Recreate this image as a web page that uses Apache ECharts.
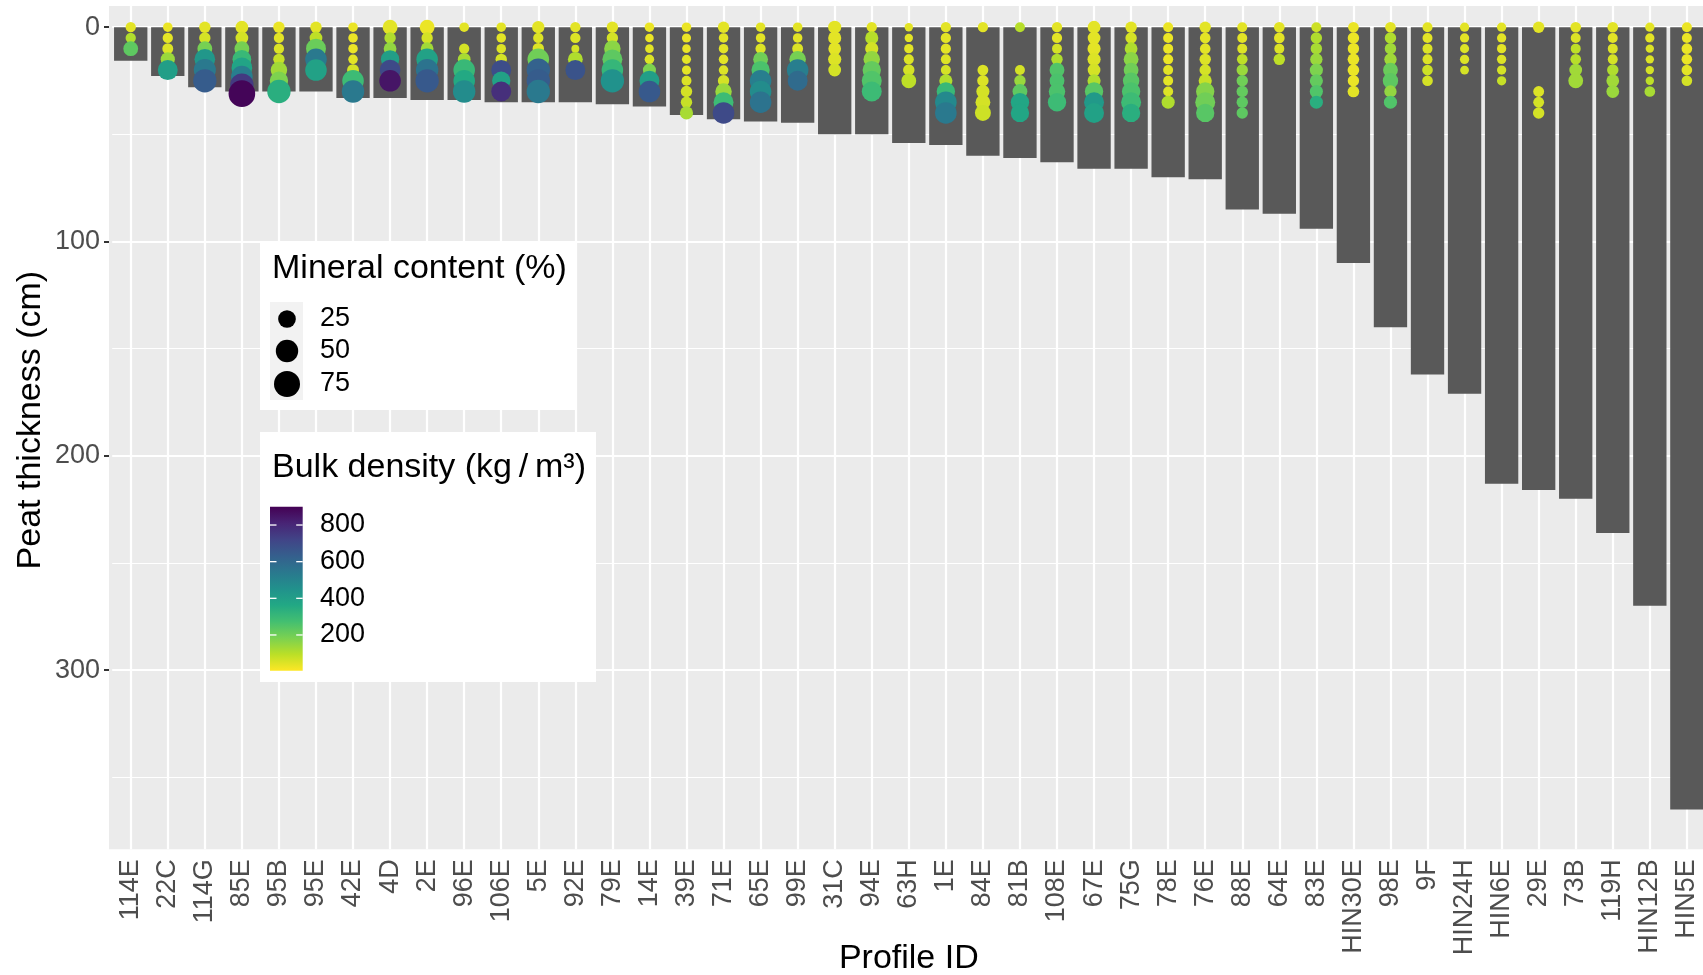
<!DOCTYPE html>
<html>
<head>
<meta charset="utf-8">
<script src="https://cdn.jsdelivr.net/npm/echarts@6/dist/echarts.min.js"></script>
<style>
html,body{margin:0;padding:0;background:#fff;}
#chart{width:1703px;height:975px;}
</style>
</head>
<body>
<div id="chart"></div>
<script>
// ---------------- data ----------------
const categories = ['114E','22C','114G','85E','95B','95E','42E','4D','2E','96E','106E','5E','92E','79E','14E','39E','71E','65E','99E','31C','94E','63H','1E','84E','81B','108E','67E','75G','78E','76E','88E','64E','83E','HIN30E','98E','9F','HIN24H','HIN6E','29E','73B','119H','HIN12B','HIN5E'];

// peat thickness of each profile (cm)
const peatThickness = [15.6,22.8,28,30,30,30,33,33,34,34,35,35,35,36,37,41,43,44,44.6,50,50,54,55,60,61,63,66,66,70,71,85,87,94,110,140,162,171,213,216,220,236,270,365];

// sample depths (cm) per profile
const sampleDepth = [
 [0,5,10],
 [0,5,10,15,20],
 [0,5,10,15,20,25],
 [0,5,10,15,19,23,27,31],
 [0,5,10,15,20,25,30],
 [0,5,10,15,20],
 [0,5,10,15,20,25,30],
 [0,5,10,15,20,25],
 [0,5,10,15,20,25],
 [0,10,15,20,25,30],
 [0,5,10,15,20,25,30],
 [0,5,10,15,20,25,30],
 [0,5,10,15,20],
 [0,5,10,15,20,25],
 [0,5,10,15,20,25,30],
 [0,5,10,15,20,25,30,35,40],
 [0,5,10,15,20,25,30,35,40],
 [0,5,10,15,20,25,30,35],
 [0,5,10,15,20,25],
 [0,5,10,15,20],
 [0,5,10,15,20,25,30],
 [0,5,10,15,20,25],
 [0,5,10,15,20,25,30,35,40],
 [0,20,25,30,35,40],
 [0,20,25,30,35,40],
 [0,5,10,15,20,25,30,35],
 [0,5,10,15,20,25,30,35,40],
 [0,5,10,15,20,25,30,35,40],
 [0,5,10,15,20,25,30,35],
 [0,5,10,15,20,25,30,35,40],
 [0,5,10,15,20,25,30,35,40],
 [0,5,10,15],
 [0,5,10,15,20,25,30,35],
 [0,5,10,15,20,25,30],
 [0,5,10,15,20,25,30,35],
 [0,5,10,15,20,25],
 [0,5,10,15,20],
 [0,5,10,15,20,25],
 [0,30,35,40],
 [0,5,10,15,20,25],
 [0,5,10,15,20,25,30],
 [0,5,10,15,20,25,30],
 [0,5,10,15,20,25]
];

// mineral content (%) per sample
const sampleMineral = [
 [3,3,14],
 [2,3,4,12,36],
 [5,5,14,40,48,56],
 [8,8,14,30,40,45,56,80],
 [5,3,3,5,20,28,56],
 [5,8,36,45,45],
 [2,2,2,2,6,45,50],
 [14,5,8,28,40,45],
 [14,5,8,45,50,56],
 [2,3,8,45,45,50],
 [2,2,2,5,36,28,36],
 [7,3,5,45,56,56,56],
 [3,3,0.5,14,36],
 [5,5,20,36,45,56],
 [2,1,1,2,9,36,45],
 [2,1.5,1,1.5,1.5,2.5,5,5,9],
 [5,2,2,2,2,5,20,36,45],
 [2,2,3,14,28,45,45,45],
 [2,2,4,20,45,36],
 [9,9,8,9,8],
 [3,9,9,20,28,36,36],
 [0.8,0.8,1.7,2.6,5,14],
 [3,3,3,2.6,2.6,9,28,45,45],
 [3,4,5,9,14,18],
 [2.6,2.6,5,14,28,28],
 [3,3,2.6,5,14,14,20,28],
 [8,8,9,9,8,9,28,36,36],
 [5,5,8,14,14,20,28,36,28],
 [2.6,2.6,2.6,2.6,2.6,2.6,2.6,9],
 [5,3.6,3.6,5,5,9,28,36,28],
 [2.6,2.6,2.6,3.6,5,5,5,5,5],
 [3.6,3.6,2.6,5],
 [2.6,5,5,7,9,9,9,9],
 [3.6,5,5,5.5,5.5,5,5.5],
 [3.6,5,5,7,14,16,7,9],
 [2.6,2.6,2.6,2.6,3.6,3.6],
 [1.7,1.7,1.5,1.7,1.2],
 [1.7,1.7,1.7,1.7,1.7,1.7],
 [5,4,4,5],
 [3.6,2.6,2.6,3.6,8,14],
 [3.6,2.6,2.6,2.6,5,8,8],
 [1.7,1.7,0.8,0.8,0.8,0.8,3.6],
 [2.6,2.6,3.6,3.6,3.6,3.6]
];

// bulk density (kg/m3) per sample
const sampleDensity = [
 [40,110,230],
 [30,40,50,140,400],
 [40,60,190,430,540,640],
 [40,60,190,300,380,520,750,890],
 [30,40,50,80,130,180,340],
 [40,90,210,540,390],
 [30,30,30,40,60,290,540],
 [40,110,150,400,700,850],
 [30,60,130,390,560,650],
 [40,60,120,300,360,470],
 [40,40,50,60,690,390,780],
 [40,50,50,200,620,640,540],
 [40,50,60,110,670],
 [40,60,160,230,310,450],
 [30,30,40,50,180,400,650],
 [30,30,30,40,40,50,60,80,120],
 [40,40,40,40,50,60,140,290,700],
 [40,40,50,200,260,520,470,560],
 [40,40,50,190,520,590],
 [40,40,40,50,60],
 [40,100,60,150,220,250,290],
 [40,40,40,50,60,90],
 [40,40,40,50,60,110,300,480,540],
 [40,50,50,60,60,70],
 [100,60,140,230,370,370],
 [40,40,60,110,250,260,260,290],
 [40,40,40,50,60,110,240,420,390],
 [40,60,110,160,200,240,260,290,340],
 [30,30,30,30,40,40,50,110],
 [40,40,40,50,60,80,170,200,240],
 [40,40,50,90,140,200,220,230,230],
 [40,40,50,90],
 [70,110,120,140,180,220,250,340],
 [30,30,30,30,30,30,40],
 [40,110,130,130,210,230,150,250],
 [40,40,50,50,70,60],
 [40,40,50,50,60],
 [40,40,40,50,60,80],
 [40,50,60,60],
 [40,50,90,100,130,130],
 [40,40,50,60,110,130,140],
 [40,40,50,50,60,90,120],
 [30,30,30,30,40,60]
];

const yTicks = [0, 100, 200, 300];
const yMinorTicks = [50, 150, 250, 350];
const mineralLegend = [25, 50, 75];
const densityLegend = [200, 400, 600, 800];
const densityRange = [5, 900];

// ---------------- styling helpers ----------------
const FONT = "'Liberation Sans', Arial, sans-serif";
const viridisRev = ['#FDE725','#BBDF27','#7AD151','#43BF71','#22A884','#21918C','#2A788E','#355F8D','#414487','#482475','#440154'];
function sizeOf(m){ return 6.33 * (1 + 0.359 * Math.sqrt(m)); }

const scatterData = [];
categories.forEach((c, i) => {
  sampleDepth[i].forEach((d, j) => {
    scatterData.push([i, d, sampleMineral[i][j], sampleDensity[i][j]]);
  });
});

const chart = echarts.init(document.getElementById('chart'), null, {renderer: 'canvas'});

// legend graphics
const g = [];
g.push({type:'rect', z:-10, silent:true, shape:{x:109, y:6, width:1600, height:843.3}, style:{fill:'#EBEBEB'}});
// legend 1
g.push({type:'rect', z:50, shape:{x:260, y:241, width:316, height:169}, style:{fill:'#FFFFFF'}});
g.push({type:'text', z:51, x:272, y:269, style:{text:'Mineral content (%)', font:'34px ' + FONT, fill:'#000', align:'left', verticalAlign:'middle'}});
g.push({type:'rect', z:51, shape:{x:270, y:302, width:33, height:98}, style:{fill:'#F2F2F2'}});
const keyY = [319, 351, 384];
mineralLegend.forEach((v, k) => {
  g.push({type:'circle', z:52, shape:{cx:287, cy:keyY[k], r:sizeOf(v)/2}, style:{fill:'#000'}});
  g.push({type:'text', z:52, x:320, y:keyY[k], style:{text:String(v), font:'27px ' + FONT, fill:'#000', align:'left', verticalAlign:'middle'}});
});
// legend 2
g.push({type:'rect', z:50, shape:{x:260, y:432, width:336, height:250}, style:{fill:'#FFFFFF'}});
g.push({type:'text', z:51, x:272, y:468, style:{text:'Bulk density (kg\u2009/\u2009m³)', font:'34px ' + FONT, fill:'#000', align:'left', verticalAlign:'middle'}});
const barTop = 506.7, barBottom = 670.7, barX = 270, barW = 32.7;
g.push({type:'rect', z:51, shape:{x:barX, y:barTop, width:barW, height:barBottom-barTop},
  style:{fill:new echarts.graphic.LinearGradient(0,1,0,0, viridisRev.map((c,i)=>({offset:i/(viridisRev.length-1), color:c})))}});
densityLegend.forEach(v => {
  const y = barBottom - (v - densityRange[0]) / (densityRange[1] - densityRange[0]) * (barBottom - barTop);
  g.push({type:'line', z:52, shape:{x1:barX, y1:y, x2:barX+6.5, y2:y}, style:{stroke:'#fff', lineWidth:1.3}});
  g.push({type:'line', z:52, shape:{x1:barX+barW-6.5, y1:y, x2:barX+barW, y2:y}, style:{stroke:'#fff', lineWidth:1.3}});
  g.push({type:'text', z:52, x:320, y:y, style:{text:String(v), font:'27px ' + FONT, fill:'#000', align:'left', verticalAlign:'middle'}});
});

const gridLines = [];
categories.forEach(c => gridLines.push({xAxis: c, lineStyle:{color:'#fff', width:2.2, type:'solid'}}));
yTicks.forEach(v => gridLines.push({yAxis: v, lineStyle:{color:'#fff', width:2.2, type:'solid'}}));
yMinorTicks.forEach(v => gridLines.push({yAxis: v, lineStyle:{color:'#fff', width:1.1, type:'solid'}}));

chart.setOption({
  animation: false,
  backgroundColor: '#fff',
  textStyle: {fontFamily: FONT},
  grid: {left: 112.2, right: -2.4, top: 6, bottom: 125.7, containLabel: false, outerBoundsMode: 'none'},
  graphic: g,
  xAxis: {
    type: 'category', data: categories,
    axisLine: {show: false},
    axisTick: {show: true, alignWithLabel: true, length: 5, lineStyle: {color: '#333', width: 2}},
    axisLabel: {interval: 0, rotate: 90, fontSize: 27, color: '#4D4D4D', margin: 10, fontFamily: FONT, hideOverlap: false},
    splitLine: {show: false},
    name: 'Profile ID', nameLocation: 'middle', nameGap: 92, nameMoveOverlap: false,
    nameTextStyle: {fontSize: 34, color: '#000', fontFamily: FONT}
  },
  yAxis: {
    type: 'value', inverse: true, min: -9.9, max: 383.6, offset: 3.2,
    axisLine: {show: false},
    axisTick: {show: true, length: 5, lineStyle: {color: '#333', width: 2}, customValues: yTicks},
    axisLabel: {fontSize: 27, color: '#4D4D4D', margin: 9, customValues: yTicks, fontFamily: FONT},
    splitLine: {show: false},
    name: 'Peat thickness (cm)', nameLocation: 'middle', nameGap: 61.5, nameRotate: 90, nameMoveOverlap: false,
    nameTextStyle: {fontSize: 34, color: '#000', fontFamily: FONT, padding: [0, 0, 0, 15]}
  },
  visualMap: {
    type: 'continuous', show: false, min: densityRange[0], max: densityRange[1],
    dimension: 3, seriesIndex: 2, inRange: {color: viridisRev}
  },
  series: [
    {
      type: 'line', data: [], z: 1, silent: true,
      markLine: {silent: true, symbol: ['none','none'], z: 1, label: {show: false}, animation: false, data: gridLines}
    },
    {
      type: 'bar', data: peatThickness, barWidth: '90%', z: 2,
      itemStyle: {color: '#595959'}, silent: true
    },
    {
      type: 'scatter', data: scatterData, z: 3,
      encode: {x: 0, y: 1},
      symbolSize: v => sizeOf(v[2]),
      itemStyle: {opacity: 1}
    }
  ]
});
</script>
</body>
</html>
